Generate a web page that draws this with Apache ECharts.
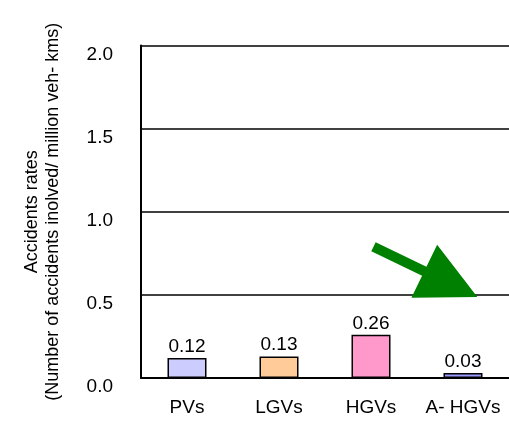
<!DOCTYPE html>
<html>
<head>
<meta charset="utf-8">
<script src="https://cdn.jsdelivr.net/npm/echarts@6/dist/echarts.min.js"></script>
<style>
  html, body { margin: 0; padding: 0; background: #fff; }
  #chart { width: 509px; height: 439px; }
</style>
</head>
<body>
<div id="chart"></div>
<script>
// Vehicle classes and their accident rates
const categories = ['PVs', 'LGVs', 'HGVs', 'A- HGVs'];
const rates = [0.12, 0.13, 0.26, 0.03];
const barColors = ['#ccccff', '#ffcc99', '#ff99cc', '#9999ff'];
const yTicks = [0, 0.5, 1.0, 1.5, 2.0];

// Downward-trend arrow, given in axis units (x: category bands from 0 to 4, y: rate)
const arrowFrom = [2.527, 0.79];
const arrowTo = [3.656, 0.487];

const FONT = '"Liberation Sans", Arial, sans-serif';

const chart = echarts.init(document.getElementById('chart'), null, { renderer: 'canvas' });

chart.setOption({
  animation: false,
  backgroundColor: '#ffffff',
  grid: { left: 141, top: 45.5, width: 372, bottom: 61 },
  xAxis: [
    {
      type: 'category',
      data: categories,
      axisLine: { lineStyle: { color: '#000', width: 2 } },
      axisTick: { inside: true, length: 7, lineStyle: { color: '#000', width: 1.5 } },
      axisLabel: { interval: 0, color: '#000', fontFamily: FONT, fontSize: 19, margin: 20 }
    },
    { type: 'value', min: 0, max: 4, show: false }
  ],
  yAxis: {
    type: 'value',
    min: yTicks[0],
    max: yTicks[yTicks.length - 1],
    interval: 0.5,
    name: 'Accidents rates\n(Number of accidents inolved/ million veh- kms)',
    nameLocation: 'middle',
    nameGap: 77,
    nameTextStyle: { color: '#000', fontFamily: FONT, fontSize: 18, lineHeight: 21 },
    axisLine: { show: true, lineStyle: { color: '#000', width: 2 } },
    axisTick: { show: false },
    axisLabel: {
      color: '#000', fontFamily: FONT, fontSize: 19, margin: 28,
      verticalAlign: 'top', lineHeight: 18,
      formatter: v => v.toFixed(1)
    },
    splitLine: { show: true, lineStyle: { color: '#000', width: 1.5 } }
  },
  series: [{
    type: 'bar',
    barWidth: 39,
    data: rates.map((v, i) => ({
      value: v,
      itemStyle: { color: barColors[i], borderColor: '#000', borderWidth: 1.5 }
    })),
    label: {
      show: true,
      position: 'top',
      distance: 2,
      color: '#000',
      fontFamily: FONT,
      fontSize: 19,
      formatter: p => p.value.toFixed(2)
    }
  }]
});

// Thick green arrow drawn in pixel space from the axis-unit endpoints
function arrowPolygon() {
  const sx = chart.convertToPixel({ xAxisIndex: 1 }, arrowFrom[0]);
  const sy = chart.convertToPixel({ yAxisIndex: 0 }, arrowFrom[1]);
  const tx = chart.convertToPixel({ xAxisIndex: 1 }, arrowTo[0]);
  const ty = chart.convertToPixel({ yAxisIndex: 0 }, arrowTo[1]);
  const dx = tx - sx, dy = ty - sy;
  const len = Math.hypot(dx, dy);
  const ux = dx / len, uy = dy / len;
  const nx = -uy, ny = ux;
  const headLen = 59, headHalf = 29.5, shaftHalf = 5;
  const bx = tx - ux * headLen, by = ty - uy * headLen;
  return [
    [sx + nx * shaftHalf, sy + ny * shaftHalf],
    [bx + nx * shaftHalf, by + ny * shaftHalf],
    [bx + nx * headHalf, by + ny * headHalf],
    [tx, ty],
    [bx - nx * headHalf, by - ny * headHalf],
    [bx - nx * shaftHalf, by - ny * shaftHalf],
    [sx - nx * shaftHalf, sy - ny * shaftHalf]
  ];
}

chart.setOption({
  graphic: [{
    type: 'polygon',
    shape: { points: arrowPolygon() },
    style: { fill: '#008000', stroke: null },
    z: 100
  }]
});
</script>
</body>
</html>
